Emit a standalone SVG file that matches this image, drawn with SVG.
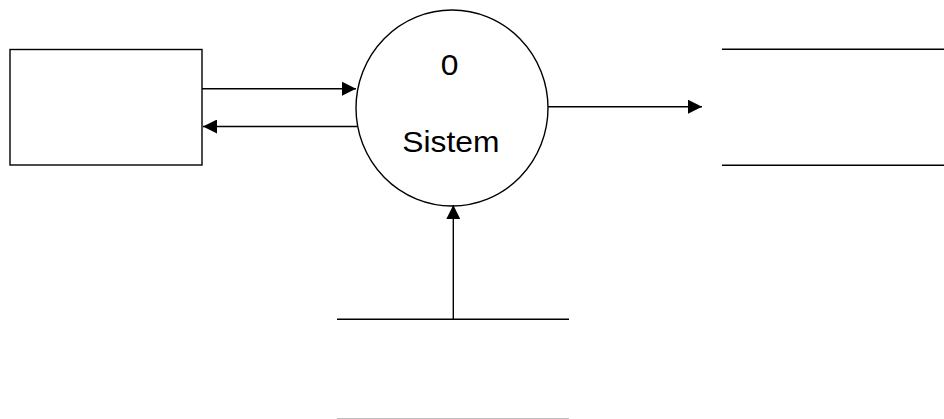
<svg xmlns="http://www.w3.org/2000/svg" width="944" height="419" viewBox="0 0 944 419">
<style>
.s{fill:none;stroke:#000;stroke-width:1.4}
.t{font-family:"Liberation Sans",Arial,sans-serif;font-size:30px;fill:#000;text-anchor:middle}
</style>
<defs>
<marker id="ah" viewBox="0 0 14 14" refX="14" refY="7" markerWidth="14" markerHeight="14" markerUnits="userSpaceOnUse" orient="auto">
<path d="M0,0 L14,7 L0,14 Z" fill="#000"/>
</marker>
</defs>
<rect width="944" height="419" fill="#fff"/>
<g id="entity">
<rect class="s" x="10" y="49.5" width="192" height="115.5"/>
</g>
<g id="process">
<ellipse class="s" cx="452" cy="108" rx="96" ry="98"/>
<text class="t" transform="translate(449.6,75) scale(1.06,1)">0</text>
<text class="t" transform="translate(450.8,151.7) scale(1.06,1)">Sistem</text>
</g>
<g id="store-right">
<line class="s" x1="722" y1="49.3" x2="944" y2="49.3"/>
<line class="s" x1="722" y1="165.3" x2="944" y2="165.3"/>
</g>
<g id="store-bottom">
<line class="s" x1="337" y1="319.3" x2="569" y2="319.3"/>
<line x1="337" y1="418.5" x2="569" y2="418.5" stroke="#bdbdbd" stroke-width="1"/>
</g>
<g id="connectors">
<line class="s" x1="202" y1="88.7" x2="356" y2="88.7" marker-end="url(#ah)"/>
<line class="s" x1="357" y1="126.5" x2="203" y2="126.5" marker-end="url(#ah)"/>
<line class="s" x1="548" y1="106.7" x2="702" y2="106.7" marker-end="url(#ah)"/>
<line class="s" x1="453.3" y1="319.3" x2="453.3" y2="205" marker-end="url(#ah)"/>
</g>
</svg>
